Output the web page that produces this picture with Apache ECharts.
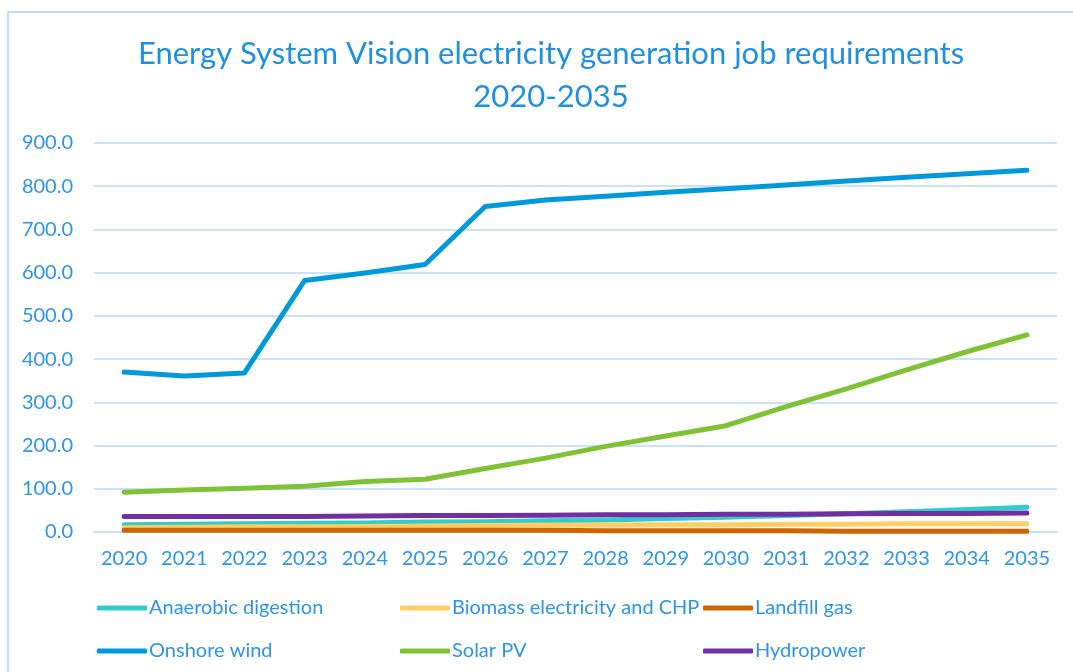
<!DOCTYPE html>
<html>
<head>
<meta charset="utf-8">
<title>Energy System Vision</title>
<script src="https://cdn.jsdelivr.net/npm/echarts@6/dist/echarts.min.js"></script>
<style>
    html, body { margin: 0; padding: 0; background: #ffffff; }
    #jobs { width: 1073px; height: 672px; }
</style>
</head>
<body>
<div id="jobs"></div>
<script>
// years on the x axis
var years = ['2020', '2021', '2022', '2023', '2024', '2025', '2026', '2027',
    '2028', '2029', '2030', '2031', '2032', '2033', '2034', '2035'];

// job requirements per technology
var anaerobicDigestion = [17, 18, 19, 20, 21, 23, 24, 26, 28, 31, 34, 38, 42, 47, 52, 57];
var biomassChp = [10, 11, 12, 12, 13, 14, 15, 16, 16, 17, 17, 18, 18, 19, 19, 19];
var landfillGas = [4, 4, 4, 4, 4, 4, 4, 4, 3, 3, 3, 3, 2, 2, 2, 2];
var onshoreWind = [370, 361, 368, 582, 599, 619, 753, 768, 777, 786, 794, 803, 812, 821, 829, 837];
var solarPv = [92, 97, 101, 106, 117, 122, 147, 171, 198, 222, 246, 290, 331, 375, 417, 456];
var hydropower = [36, 36, 36, 36, 37, 38, 38, 39, 40, 40, 41, 41, 42, 43, 43, 44];

var seriesNames = ['Anaerobic digestion', 'Biomass electricity and CHP', 'Landfill gas',
    'Onshore wind', 'Solar PV', 'Hydropower'];
var seriesData = [anaerobicDigestion, biomassChp, landfillGas, onshoreWind, solarPv, hydropower];
var seriesColors = ['#33CCCC', '#FFCC66', '#CC6600', '#0099DA', '#80C236', '#7030A0'];

var textBlue = '#2F95E5';
var gridBlue = '#C9E4FA';
var fontName = 'Lato';

var chart = echarts.init(document.getElementById('jobs'));

// build the line series from the arrays above
var lines = [];
for (var i = 0; i < seriesNames.length; i++) {
    lines.push({
        name: seriesNames[i],
        type: 'line',
        data: seriesData[i],
        symbol: 'none',
        lineStyle: { width: 5, color: seriesColors[i], cap: 'round', join: 'round' },
        itemStyle: { color: seriesColors[i] }
    });
}

// one legend per entry so the three columns line up like the original
var legendLeft = [92, 395, 698];
var legendTop = [593, 636];
var legends = [];
for (var j = 0; j < seriesNames.length; j++) {
    legends.push({
        data: [seriesNames[j]],
        left: legendLeft[j % 3],
        top: legendTop[Math.floor(j / 3)],
        icon: 'roundRect',
        itemWidth: 50,
        itemHeight: 5,
        textStyle: {
            color: textBlue,
            fontSize: 20,
            fontFamily: fontName,
            padding: [0, 0, 0, -3]
        }
    });
}

var options = {
    backgroundColor: '#ffffff',
    animation: false,
    title: {
        text: 'Energy System Vision electricity generation job requirements\n2020-2035',
        left: 546,
        textAlign: 'center',
        top: 27,
        textStyle: {
            color: '#1F8FE0',
            fontSize: 31,
            fontWeight: 'normal',
            fontFamily: fontName,
            lineHeight: 43
        }
    },
    graphic: [{
        type: 'rect',
        z: -1,
        shape: { x: 8, y: 12, width: 1100, height: 700 },
        style: { fill: 'none', stroke: '#BEE0F8', lineWidth: 2 }
    }],
    legend: legends,
    grid: { left: 94, right: 16, top: 143, bottom: 140 },
    xAxis: {
        type: 'category',
        data: years,
        boundaryGap: true,
        axisLine: { lineStyle: { color: gridBlue, width: 2 } },
        axisTick: { show: false },
        axisLabel: { color: textBlue, fontSize: 20, fontFamily: fontName, margin: 17, interval: 0 }
    },
    yAxis: {
        type: 'value',
        min: 0,
        max: 900,
        interval: 100,
        axisLine: { show: false },
        axisTick: { show: false },
        splitLine: { lineStyle: { color: gridBlue, width: 2 } },
        axisLabel: {
            color: textBlue,
            fontSize: 20,
            fontFamily: fontName,
            margin: 21,
            formatter: function (v) { return v.toFixed(1); }
        }
    },
    series: lines
};

chart.setOption(options);
</script>
</body>
</html>
